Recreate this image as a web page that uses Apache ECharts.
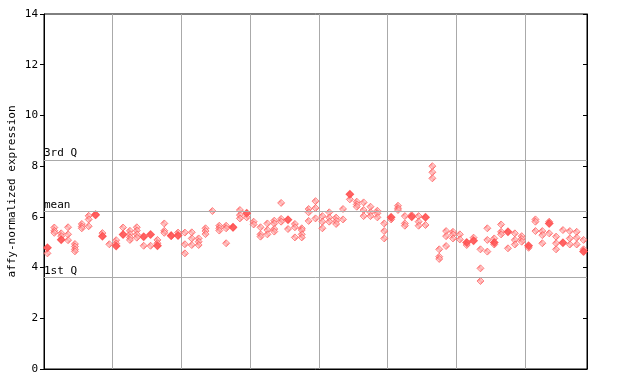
<!DOCTYPE html>
<html><head><meta charset="utf-8">
<script src="https://cdn.jsdelivr.net/npm/echarts@6/dist/echarts.min.js"></script>
<style>html,body{margin:0;padding:0;background:#fff}#c{width:640px;height:384px}</style>
</head><body><div id="c"></div>
<script>
// replicate values per sample column (79 columns)
const columns = [
 [4.78,4.56],[5.58,5.45,5.37],[5.35,5.24,5.1],[5.59,5.31,5.08],[4.93,4.83,4.72,4.64],
 [5.72,5.62,5.55],[6.04,5.9,5.63],[6.1,6.06],[5.36,5.24],[4.92],
 [5.08,4.95,4.85],[5.58,5.3],[5.45,5.32,5.19,5.09],[5.59,5.46,5.31,5.18],[5.22,4.86],
 [5.3,4.86],[5.09,4.96,4.86],[5.74,5.45,5.37],[5.26,5.24],[5.38,5.26],
 [5.38,4.92,4.56],[5.39,5.15,4.89],[5.15,5.02,4.89],[5.55,5.44,5.32],[6.23],
 [5.65,5.55,5.46],[5.65,5.55,4.96],[5.6,5.57],[6.27,6.07,5.94],[6.14,5.98],
 [5.81,5.7],[5.59,5.31,5.22],[5.74,5.48,5.31],[5.85,5.74,5.52,5.42],[6.55,5.92,5.81],
 [5.89,5.52],[5.72,5.59,5.19],[5.55,5.48,5.31,5.19],[6.31,6.18,5.84],[6.62,6.35,5.94],
 [6.03,5.81,5.55],[6.18,5.97,5.81],[5.97,5.84,5.72],[6.31,5.9],[6.89,6.69],
 [6.6,6.49,6.4],[6.57,6.27,6.03],[6.4,6.18,6.03],[6.24,6.14,5.98],[5.74,5.44,5.15],
 [5.98,5.9],[6.44,6.34,6.27],[6.03,5.74,5.65],[6.07,6.0],[6.03,5.81,5.65],
 [5.98,5.68],[8.0,7.76,7.52],[4.72,4.43,4.34],[5.44,5.24,4.85],[5.41,5.31,5.15],
 [5.31,5.11],[4.99,4.89],[5.18,5.06],[4.72,3.97,3.47],[5.55,5.09,4.63],
 [5.15,4.99,4.91],[5.7,5.41,5.31],[5.41,4.76],[5.35,5.09,4.91],[5.24,5.13,5.02],
 [4.86,4.78],[5.9,5.81,5.44],[5.44,5.28,4.96],[5.81,5.74,5.35],[5.22,4.96,4.72],
 [5.48,4.98],[5.44,5.15,4.91],[5.41,5.18,4.91],[5.09,4.72,4.63]
];
// solid (highlighted) markers: column index and value
const solidCols = [0,2,7,8,10,11,14,15,16,18,19,27,29,35,44,50,53,55,61,62,65,67,70,73,75,78];
const solidVals = [4.78,5.1,6.08,5.24,4.85,5.3,5.22,5.3,4.86,5.26,5.26,5.59,6.14,5.89,6.89,5.98,6.0,5.98,4.99,5.06,4.99,5.41,4.86,5.74,4.98,4.63];
const yTicks = [0,2,4,6,8,10,12,14];
const refNames = ['3rd Q','mean','1st Q'];
const refValues = [8.24,6.22,3.62];
const yTitle = 'affy-normalized expression';

const nCols = columns.length;
const pts = [];
columns.forEach((vals,i)=>vals.forEach(v=>pts.push([i+0.5,v])));
const solid = solidCols.map((c,k)=>[c+0.5,solidVals[k]]);

const pc = document.createElement('canvas'); pc.width=2; pc.height=2;
const g = pc.getContext('2d'); g.fillStyle='#fff'; g.fillRect(0,0,2,2);
g.fillStyle='#ff4c4c'; g.fillRect(0,0,1,1); g.fillRect(1,1,1,1);

const font = 'DejaVu Sans Mono';
const chart = echarts.init(document.getElementById('c'),null,{renderer:'canvas'});
chart.setOption({
  animation:false,
  grid:{left:44,right:53,top:14,bottom:15,containLabel:false,outerBoundsMode:'none',
    show:true,borderColor:'#000',borderWidth:1,backgroundColor:'#fff'},
  xAxis:{type:'value',min:0,max:nCols,interval:10,axisLabel:{show:false},axisTick:{show:false},
    axisLine:{show:true,lineStyle:{color:'#000'}},
    splitLine:{show:true,lineStyle:{color:'#aaaaaa',width:1}}},
  yAxis:[
    {type:'value',min:0,max:14,interval:2,position:'left',
     axisLine:{show:true,lineStyle:{color:'#000'}},
     axisTick:{show:true,length:4,lineStyle:{color:'#000'}},
     axisLabel:{color:'#000',fontFamily:font,fontSize:11,margin:6,
       formatter:v=>yTicks.includes(v)?String(v):''},
     splitLine:{show:false},
     name:yTitle,nameLocation:'middle',nameGap:26,nameRotate:90,nameMoveOverlap:false,
     nameTextStyle:{fontFamily:font,fontSize:11,color:'#000'}},
    {type:'value',min:0,max:14,interval:2,position:'right',
     axisLine:{show:true,lineStyle:{color:'#000'}},
     axisTick:{show:true,inside:true,length:4,lineStyle:{color:'#000'}},
     axisLabel:{show:false},splitLine:{show:false}}
  ],
  series:[
    {type:'scatter',data:pts,symbol:'diamond',symbolSize:7,
     itemStyle:{color:{image:pc,repeat:'repeat'},borderColor:'#ff4c4c',borderWidth:0.8},
     markLine:{silent:true,symbol:'none',animation:false,
       lineStyle:{color:'#aaaaaa',type:'solid',width:1},
       label:{show:true,position:'insideStartTop',distance:[0,1],formatter:p=>p.name,
         fontFamily:font,fontSize:11,color:'#000',padding:0},
       data:refNames.map((n,k)=>({name:n,yAxis:refValues[k]}))},
     z:3},
    {type:'scatter',data:solid,symbol:'diamond',symbolSize:9,
     itemStyle:{color:'#ff4c4c'},z:4}
  ]
});
</script></body></html>
